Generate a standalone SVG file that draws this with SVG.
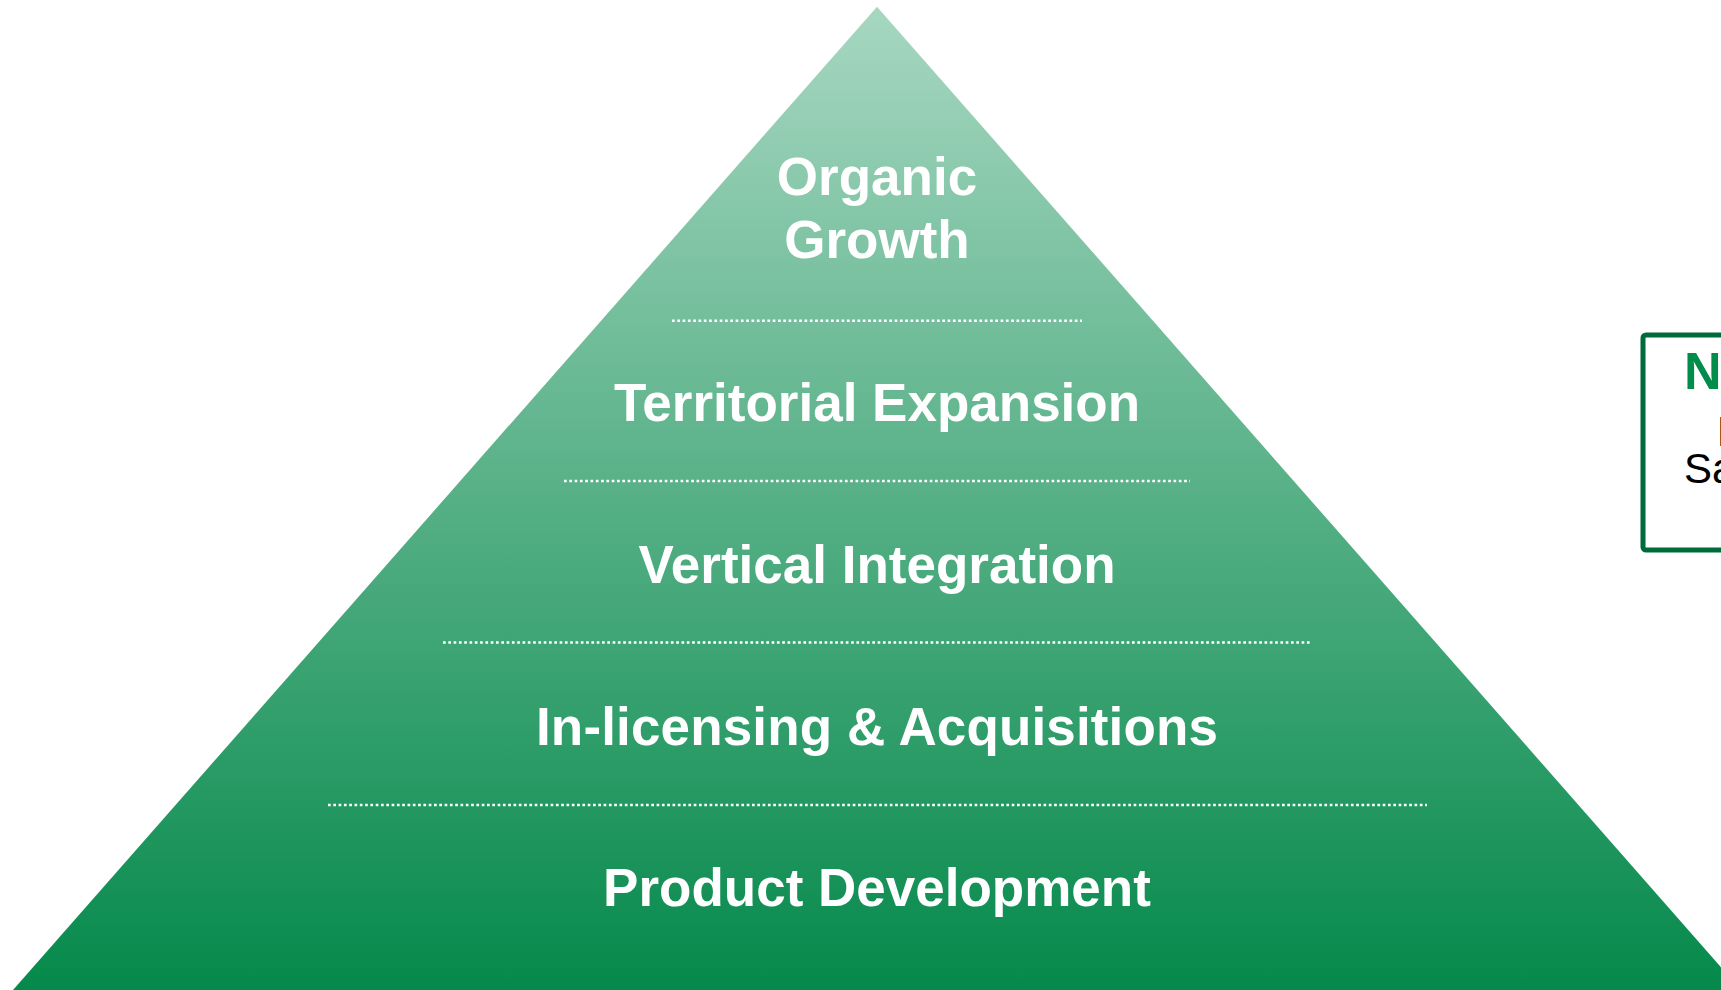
<svg xmlns="http://www.w3.org/2000/svg" width="1721" height="990" viewBox="0 0 1721 990">
  <style>
    .lbl { font-family: "Liberation Sans", Arial, sans-serif; font-weight: bold; font-size: 53px; fill: #ffffff; text-anchor: middle; }
    .div { stroke: #ffffff; stroke-width: 2.6; stroke-dasharray: 2.7 2.6; fill: none; }
    .boxt { font-family: "Liberation Sans", Arial, sans-serif; }
  </style>
  <defs>
    <linearGradient id="pyr" x1="0" y1="6.7" x2="0" y2="990" gradientUnits="userSpaceOnUse">
      <stop offset="0" stop-color="#a7d7c1"/>
      <stop offset="1" stop-color="#05894b"/>
    </linearGradient>
  </defs>
  <rect width="1721" height="990" fill="#ffffff"/>
  <g id="pyramid">
    <polygon points="877,6.7 1741,990 13,990" fill="url(#pyr)"/>
  </g>
  <g id="dividers">
    <line class="div" x1="672" y1="320.7" x2="1082" y2="320.7"/>
    <line class="div" x1="564" y1="481" x2="1190" y2="481"/>
    <line class="div" x1="443" y1="642.5" x2="1311" y2="642.5"/>
    <line class="div" x1="328" y1="805" x2="1427" y2="805"/>
  </g>
  <g id="organic-growth">
    <text class="lbl" x="877" y="195">Organic</text>
    <text class="lbl" x="877" y="258">Growth</text>
  </g>
  <g id="territorial-expansion">
    <text class="lbl" x="877" y="421">Territorial Expansion</text>
  </g>
  <g id="vertical-integration">
    <text class="lbl" x="877" y="583">Vertical Integration</text>
  </g>
  <g id="in-licensing">
    <text class="lbl" x="877" y="745" textLength="682" lengthAdjust="spacing">In-licensing &amp; Acquisitions</text>
  </g>
  <g id="product-development">
    <text class="lbl" x="877" y="906">Product Development</text>
  </g>
  <g id="side-box">
    <rect x="1643" y="335" width="300" height="215" rx="3" fill="#ffffff" stroke="#006b3a" stroke-width="5"/>
    <text class="boxt" x="1684" y="389" font-size="52" font-weight="bold" fill="#008c4b">N</text>
    <text class="boxt" x="1716.4" y="446" font-size="42" fill="#000000">I</text>
    <text class="boxt" x="1684" y="483" font-size="42" fill="#000000">Sa</text>
  </g>
</svg>
